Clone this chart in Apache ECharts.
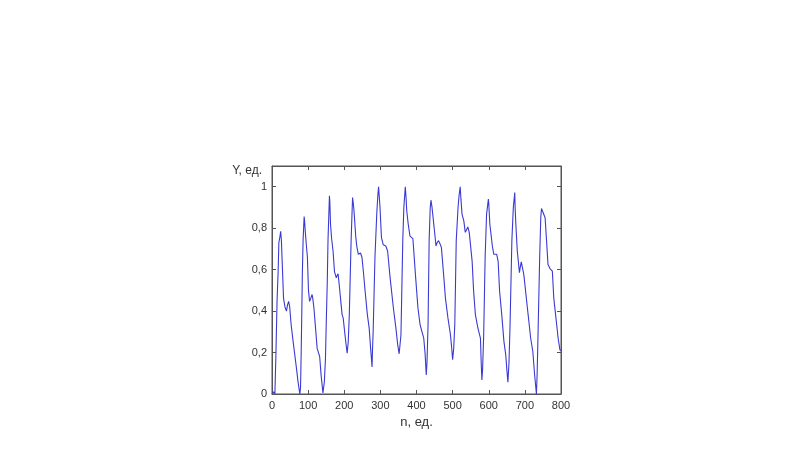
<!DOCTYPE html>
<html>
<head>
<meta charset="utf-8">
<script src="https://cdn.jsdelivr.net/npm/echarts@6/dist/echarts.min.js"></script>
<style>html,body{margin:0;padding:0;background:#fff;}#c{width:800px;height:450px;}</style>
</head>
<body>
<div id="c"></div>
<script>
const nValues = [0,4,8,11,14,17,19,22,24,26,29,32,36,40,43,46,49,53,58,63,68,72,77,
79,81,84,86,89,90,92,95,98,101,104,107,111,113,116,120,125,132,136,141,143,
145,148,150,153,155,159,160,162,165,169,173,178,180,183,185,187,194,197,202,205,208,
211,214,219,223,225,227,232,235,239,242,245,249,253,257,264,269,273,277,
278,280,285,290,293,295,297,299,303,308,315,320,327,336,343,348,352,
357,362,365,369,371,373,377,382,387,390,397,404,410,420,424,427,
429,432,435,438,440,443,449,454,457,461,465,469,475,480,487,494,497,500,
503,506,510,515,518,521,523,526,531,535,538,542,546,554,558,563,570,577,579,581,
583,586,590,594,599,600,603,610,614,618,622,626,630,636,642,647,650,653,
656,659,664,668,672,673,675,679,685,687,690,694,697,707,716,722,727,732,
734,736,741,744,746,751,756,760,764,770,776,780,785,792,797,800];
const yValues = [0,0.01,0,0.2,0.45,0.59,0.73,0.76,0.785,0.74,0.6,0.46,0.42,0.4,0.43,0.447,0.42,0.334,0.26,0.19,0.12,0.06,0,
0.03,0.22,0.577,0.74,0.856,0.84,0.787,0.72,0.66,0.5,0.447,0.46,0.48,0.46,0.415,0.33,0.22,0.18,0.09,0.005,0.01,
0.06,0.17,0.33,0.54,0.74,0.956,0.93,0.82,0.75,0.69,0.59,0.56,0.57,0.58,0.545,0.51,0.383,0.367,0.286,0.24,0.197,
0.25,0.383,0.74,0.948,0.92,0.884,0.755,0.71,0.674,0.675,0.68,0.66,0.59,0.51,0.383,0.318,0.22,0.13,
0.2,0.3,0.66,0.87,0.96,1.0,0.95,0.9,0.755,0.72,0.714,0.69,0.56,0.415,0.318,0.237,0.194,
0.286,0.74,0.9,1.0,0.95,0.884,0.82,0.762,0.762,0.75,0.577,0.415,0.334,0.27,0.19,0.092,
0.15,0.334,0.74,0.9,0.935,0.9,0.8,0.714,0.73,0.74,0.725,0.706,0.577,0.464,0.367,0.286,0.23,0.165,
0.22,0.334,0.74,0.9,0.96,1.0,0.94,0.868,0.835,0.78,0.79,0.806,0.78,0.64,0.5,0.383,0.318,0.27,0.157,0.068,
0.12,0.286,0.66,0.868,0.94,0.92,0.82,0.714,0.674,0.672,0.674,0.64,0.496,0.383,0.254,0.19,0.12,0.057,
0.15,0.334,0.74,0.9,0.972,0.9,0.82,0.69,0.585,0.61,0.637,0.637,0.577,0.415,0.27,0.205,0.092,0,
0.1,0.254,0.66,0.85,0.895,0.89,0.85,0.74,0.625,0.604,0.593,0.464,0.383,0.27,0.213,0.21];

const chart = echarts.init(document.getElementById('c'));
const fmtY = v => v > 1.05 ? '' : String(+v.toFixed(1)).replace('.', ',');
const mkLine = () => ({show: true, onZero: false, lineStyle: {color: '#555', width: 1}});
const mkTick = () => ({show: true, inside: true, length: 4, lineStyle: {color: '#555', width: 1}});
const font = 'Liberation Sans, Arial, sans-serif';
chart.setOption({
  animation: false,
  backgroundColor: '#fff',
  grid: {left: 272, right: 239, top: 166, bottom: 56, show: true, borderColor: '#555', borderWidth: 1, backgroundColor: 'transparent'},
  xAxis: [{
    type: 'value', min: 0, max: 800, interval: 100, position: 'bottom',
    name: 'n, ед.', nameLocation: 'middle', nameGap: 18,
    nameTextStyle: {color: '#333', fontSize: 13, fontFamily: font},
    axisLine: mkLine(), axisTick: mkTick(), splitLine: {show: false},
    axisLabel: {margin: 6, color: '#333', fontSize: 11, fontFamily: font}
  }, {
    type: 'value', min: 0, max: 800, interval: 100, position: 'top',
    axisLine: mkLine(), axisTick: mkTick(), splitLine: {show: false}, axisLabel: {show: false}
  }],
  yAxis: [{
    type: 'value', min: 0, max: 1.1, interval: 0.2, position: 'left',
    name: 'Y, ед.', nameLocation: 'end', nameGap: -5,
    nameTextStyle: {color: '#333', fontSize: 12, fontFamily: font, align: 'right', verticalAlign: 'middle', padding: [0, 10, 0, 0]},
    axisLine: mkLine(), axisTick: mkTick(), splitLine: {show: false},
    axisLabel: {margin: 5, formatter: fmtY, color: '#333', fontSize: 11, fontFamily: font}
  }, {
    type: 'value', min: 0, max: 1.1, interval: 0.2, position: 'right',
    axisLine: mkLine(), axisTick: mkTick(), splitLine: {show: false}, axisLabel: {show: false}
  }],
  series: [{
    type: 'line', xAxisIndex: 0, yAxisIndex: 0, showSymbol: false, smooth: false,
    lineStyle: {color: '#3a3ad2', width: 1.1},
    data: nValues.map((n, i) => [n, yValues[i]])
  }]
});
</script>
</body>
</html>
